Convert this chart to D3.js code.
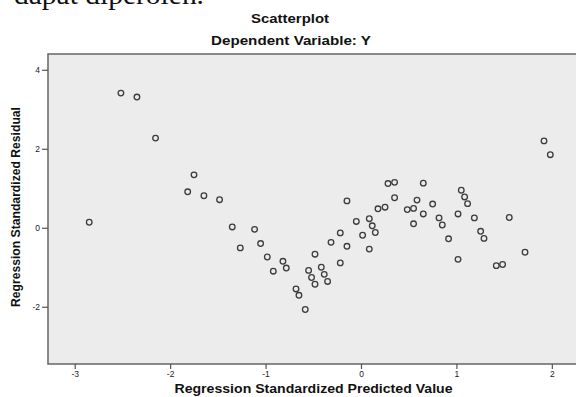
<!DOCTYPE html>
<html>
<head>
<meta charset="utf-8">
<script src="https://cdn.jsdelivr.net/npm/d3@7"></script>
<style>
  html, body { margin: 0; padding: 0; background: #ffffff; overflow: hidden; }
  svg { display: block; }
</style>
</head>
<body>
<svg id="chart" width="576" height="397"></svg>
<script>
// ---- Data ----
const predicted = [
  -2.848, -2.516, -2.348, -2.153, -1.750, -1.816, -1.646, -1.482, -1.349, -1.265,
  -1.115, -1.052, -0.982, -0.919, -0.818, -0.783, -0.681, -0.650, -0.584, -0.549,
  -0.518, -0.482, -0.482, -0.416, -0.385, -0.350, -0.314, -0.217, -0.217, -0.147,
  -0.147, -0.049, 0.017, 0.087, 0.118, 0.150, 0.087, 0.178, 0.252, 0.283,
  0.352, 0.352, 0.485, 0.551, 0.587, 0.653, 0.653, 0.551, 0.751, 0.818,
  0.852, 0.918, 1.017, 1.017, 1.051, 1.086, 1.117, 1.188, 1.254, 1.289,
  1.418, 1.484, 1.554, 1.719, 1.918, 1.984
];
const residual = [
  0.14, 3.41, 3.31, 2.27, 1.34, 0.91, 0.81, 0.71, 0.02, -0.51,
  -0.04, -0.40, -0.74, -1.10, -0.85, -1.02, -1.55, -1.71, -2.07, -1.08,
  -1.26, -1.43, -0.67, -1.00, -1.18, -1.36, -0.37, -0.13, -0.89, -0.47,
  0.68, 0.16, -0.19, 0.23, 0.05, -0.12, -0.54, 0.48, 0.52, 1.12,
  1.15, 0.76, 0.46, 0.49, 0.70, 1.13, 0.35, 0.10, 0.60, 0.25,
  0.07, -0.28, -0.80, 0.35, 0.95, 0.78, 0.61, 0.25, -0.09, -0.27,
  -0.96, -0.93, 0.26, -0.62, 2.20, 1.85
];
const xTicks = [-3, -2, -1, 0, 1, 2];
const yTicks = [-2, 0, 2, 4];
const xDomain = [-3.28, 2.4];
const yDomain = [-3.45, 4.4];
const titleText = "Scatterplot";
const subtitleText = "Dependent Variable: Y";
const xLabel = "Regression Standardized Predicted Value";
const yLabel = "Regression Standardized Residual";
const topText = "dapat diperoleh.";

const points = predicted.map((v, i) => ({ x: v, y: residual[i] }));

// ---- Layout ----
const svg = d3.select("#chart");
const plotLeft = 48, plotTop = 54, plotBottom = 364, plotRight = 590;

const x = d3.scaleLinear().domain(xDomain).range([plotLeft, plotRight]);
const y = d3.scaleLinear().domain(yDomain).range([plotBottom, plotTop]);

// cut-off document text at the very top (as in the reference)
svg.append("text")
  .attr("x", 14).attr("y", 4)
  .attr("font-family", "Liberation Serif, Times New Roman, serif")
  .attr("font-size", 28)
  .attr("textLength", 190)
  .attr("lengthAdjust", "spacingAndGlyphs")
  .attr("fill", "#111")
  .text(topText);

// Titles
svg.append("text")
  .attr("x", 290).attr("y", 23)
  .attr("text-anchor", "middle")
  .attr("font-family", "Liberation Sans, Arial, sans-serif")
  .attr("font-weight", "bold")
  .attr("font-size", 12.5)
  .attr("textLength", 78)
  .attr("lengthAdjust", "spacingAndGlyphs")
  .attr("fill", "#111")
  .text(titleText);

svg.append("text")
  .attr("x", 291).attr("y", 45)
  .attr("text-anchor", "middle")
  .attr("font-family", "Liberation Sans, Arial, sans-serif")
  .attr("font-weight", "bold")
  .attr("font-size", 12.5)
  .attr("textLength", 160)
  .attr("lengthAdjust", "spacingAndGlyphs")
  .attr("fill", "#111")
  .text(subtitleText);

// Plot background
svg.append("rect")
  .attr("x", plotLeft).attr("y", plotTop)
  .attr("width", plotRight - plotLeft).attr("height", plotBottom - plotTop)
  .attr("fill", "#ececec")
  .attr("stroke", "#666")
  .attr("stroke-width", 1.5);

const fmt = d => String(d);

// Axes
const yAxis = d3.axisLeft(y).tickValues(yTicks).tickSize(6).tickPadding(2).tickFormat(fmt);
const gy = svg.append("g").attr("transform", `translate(${plotLeft},0)`).call(yAxis);
gy.select(".domain").remove();
gy.selectAll(".tick line").attr("stroke", "#555").attr("stroke-width", 1.2);
gy.selectAll(".tick text")
  .attr("font-family", "Liberation Sans, Arial, sans-serif")
  .attr("font-size", 8.5).attr("fill", "#222");

const xAxis = d3.axisBottom(x).tickValues(xTicks).tickSize(5).tickPadding(2).tickFormat(fmt);
const gx = svg.append("g").attr("transform", `translate(0,${plotBottom})`).call(xAxis);
gx.select(".domain").remove();
gx.selectAll(".tick line").attr("stroke", "#555").attr("stroke-width", 1.2);
gx.selectAll(".tick text")
  .attr("font-family", "Liberation Sans, Arial, sans-serif")
  .attr("font-size", 8.5).attr("fill", "#222");

// Axis titles
svg.append("text")
  .attr("x", 313.5).attr("y", 393)
  .attr("text-anchor", "middle")
  .attr("font-family", "Liberation Sans, Arial, sans-serif")
  .attr("font-weight", "bold")
  .attr("font-size", 12)
  .attr("textLength", 278)
  .attr("lengthAdjust", "spacingAndGlyphs")
  .attr("fill", "#111")
  .text(xLabel);

svg.append("text")
  .attr("transform", "translate(20,207) rotate(-90)")
  .attr("text-anchor", "middle")
  .attr("font-family", "Liberation Sans, Arial, sans-serif")
  .attr("font-weight", "bold")
  .attr("font-size", 12)
  .attr("textLength", 200)
  .attr("lengthAdjust", "spacingAndGlyphs")
  .attr("fill", "#111")
  .text(yLabel);

// Points
svg.append("g")
  .selectAll("circle")
  .data(points)
  .join("circle")
  .attr("cx", d => x(d.x))
  .attr("cy", d => y(d.y))
  .attr("r", 2.8)
  .attr("fill", "none")
  .attr("stroke", "#3c3c3c")
  .attr("stroke-width", 1.3);
</script>
</body>
</html>
